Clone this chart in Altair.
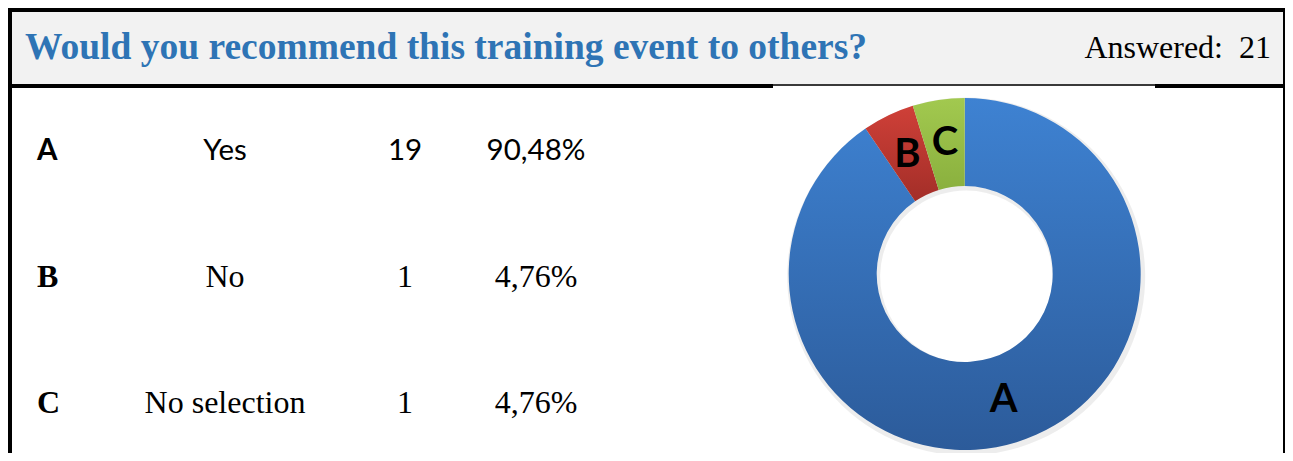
import altair as alt
import pandas as pd

# ---- data ----
title_text = "Would you recommend this training event to others?"
answered_label = "Answered:\u00a0 21"
letters = ["A", "B", "C"]
answers = ["Yes", "No", "No selection"]
counts = [19, 1, 1]
percents = ["90,48%", "4,76%", "4,76%"]

total = sum(counts)
df = pd.DataFrame({"letter": letters, "answer": answers, "count": counts, "pct": percents})

W, H = 1277, 445
CX, CY = 956.7, 266
one = alt.Data(values=[{"k": 1}])


def band(x, x2, y, y2, color):
    return alt.Chart(one).mark_rect(color=color).encode(
        x=alt.value(x), x2=alt.value(x2), y=alt.value(y), y2=alt.value(y2)
    )


# ---- frame and header ----
frame = [
    band(0, W, 0, 80, "#000000"),
    band(4, W - 2, 4, 76, "#F2F2F2"),
    band(765, 1147, 78, 80, "#FFFFFF"),
    band(765, 1147, 76, 78, "#3A3A3A"),
    band(0, 4, 0, H, "#000000"),
    band(W - 2, W, 0, H, "#000000"),
]

title = alt.Chart(one).mark_text(
    font="Liberation Serif", fontSize=37.5, fontWeight="bold", color="#2E74B5",
    align="left", baseline="alphabetic"
).encode(x=alt.value(17), y=alt.value(51), text=alt.value(title_text))

answered = alt.Chart(one).mark_text(
    font="Liberation Serif", fontSize=32, color="#000000",
    align="right", baseline="alphabetic"
).encode(x=alt.value(1263), y=alt.value(50), text=alt.value(answered_label))

# ---- table rows ----
row_y = alt.Y("letter:N", scale=alt.Scale(domain=letters, range=[152, 405], padding=0), axis=None)


def row_layers(filt, font, size):
    base = alt.Chart(df).transform_filter(filt)
    return [
        base.mark_text(font=font, fontSize=size, fontWeight="bold", align="left",
                       baseline="alphabetic", color="#000000").encode(
            x=alt.value(29), y=row_y, text="letter:N"),
        base.mark_text(font=font, fontSize=size, align="center",
                       baseline="alphabetic", color="#000000").encode(
            x=alt.value(217), y=row_y, text="answer:N"),
        base.mark_text(font=font, fontSize=size, align="center",
                       baseline="alphabetic", color="#000000").encode(
            x=alt.value(397), y=row_y, text=alt.Text("count:Q", format="d")),
        base.mark_text(font=font, fontSize=size, align="center",
                       baseline="alphabetic", color="#000000").encode(
            x=alt.value(528), y=row_y, text="pct:N"),
    ]


rows = row_layers(alt.datum.letter == "A", "Lato", 29.5) + \
    row_layers(alt.datum.letter != "A", "Liberation Serif", 32)

# ---- donut ----
theta_scale = alt.Scale(domain=[0, total], nice=False)
arc_base = alt.Chart(df).transform_stack(
    stack="count", as_=["start", "end"], groupby=[],
    sort=[alt.SortField("letter", order="ascending")]
).transform_calculate(mid="(datum.start + datum.end) / 2")


def grad(c1, c2):
    return alt.LinearGradient(
        gradient="linear",
        stops=[alt.GradientStop(offset=0, color=c1), alt.GradientStop(offset=1, color=c2)],
        x1=0, x2=0, y1=0, y2=1,
    )


slice_fill = {
    "A": grad("#3E82D2", "#2C5B9A"),
    "B": grad("#CF4038", "#A32E28"),
    "C": grad("#A2C94F", "#8AB03E"),
}

shadow = arc_base.mark_arc(innerRadius=86, outerRadius=179, color="#000000", opacity=0.07).encode(
    theta=alt.Theta("start:Q", scale=theta_scale, stack=None),
    theta2="end:Q",
    x=alt.value(CX + 1.5), y=alt.value(CY + 2.5),
)

arcs = [
    arc_base.transform_filter(alt.datum.letter == L).mark_arc(
        innerRadius=88, outerRadius=176, color=slice_fill[L]
    ).encode(
        theta=alt.Theta("start:Q", scale=theta_scale, stack=None),
        theta2="end:Q",
        x=alt.value(CX), y=alt.value(CY),
    )
    for L in letters
]

labels = arc_base.mark_text(
    radius=132, font="Lato", fontSize=40, fontWeight="bold", color="#000000",
    align="center", baseline="middle"
).encode(
    theta=alt.Theta("mid:Q", scale=theta_scale, stack=None),
    text="letter:N",
    x=alt.value(CX), y=alt.value(CY),
)

chart = alt.layer(*frame, title, answered, *rows, shadow, *arcs, labels).properties(
    width=W, height=H, padding=0, autosize=alt.AutoSizeParams(type="none"),
    background="#FFFFFF",
).configure_view(stroke=None)

chart.save("out.html", embed_options={"renderer": "svg", "actions": False})
